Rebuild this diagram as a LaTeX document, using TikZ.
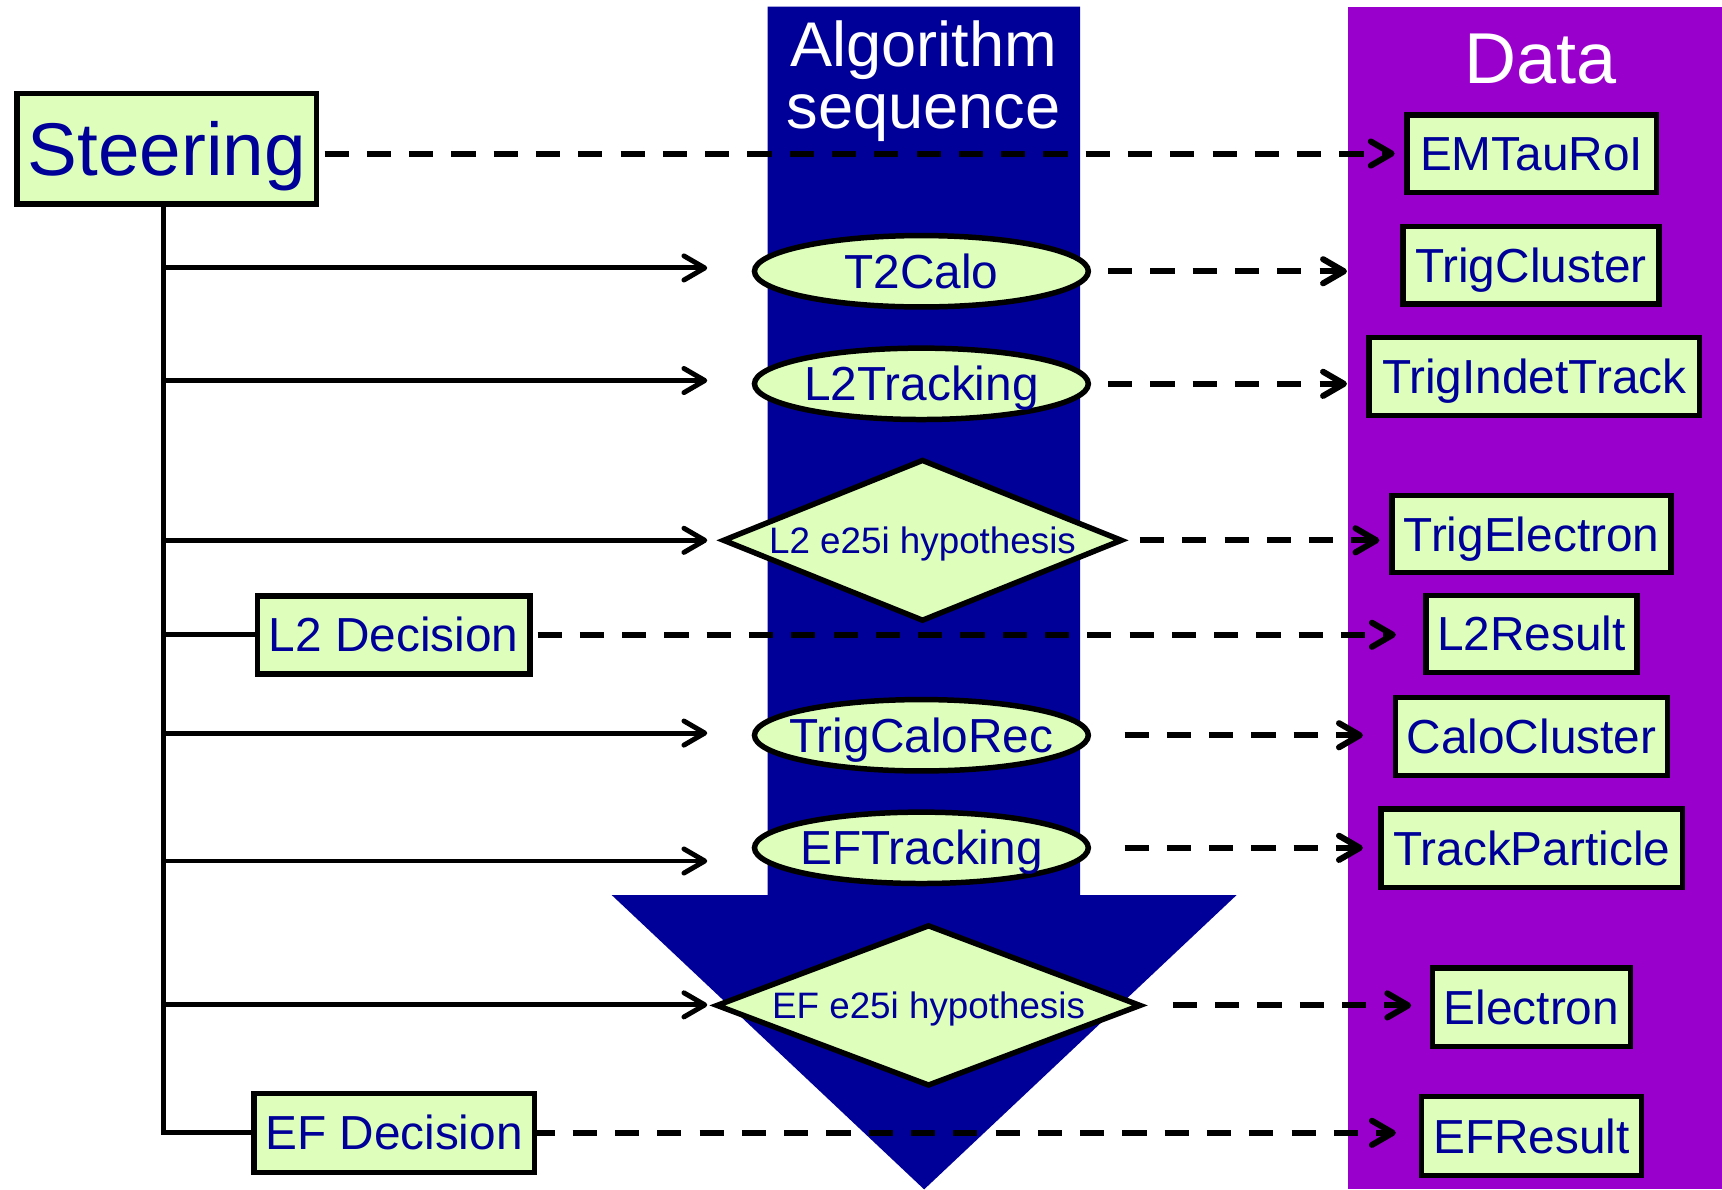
\documentclass[tikz,border=0pt]{standalone}
\usepackage{fontspec}
\setmainfont{Liberation Sans}
\usetikzlibrary{shapes.geometric, arrows.meta}

\definecolor{algoblue}{RGB}{0,0,153}
\definecolor{datapurple}{RGB}{153,0,204}
\definecolor{boxfill}{RGB}{221,255,187}
\definecolor{boxtext}{RGB}{0,0,153}

\begin{document}
\begin{tikzpicture}[x=1pt, y=-1pt,
  every node/.style={inner sep=0pt, outer sep=0pt},
  lbl/.style={font=\fontsize{43.5}{50}\selectfont, text=boxtext,
    text height=31.1pt, text depth=0pt},
  databox/.style={lbl, rectangle, draw=black, line width=5pt, fill=boxfill,
    minimum height=71pt},
  algo/.style={lbl, ellipse, draw=black, line width=5pt, fill=boxfill,
    minimum width=304pt, minimum height=65pt, inner xsep=-80pt},
  hypo/.style={lbl, diamond, aspect=2.5, draw=black, line width=5pt,
    fill=boxfill, font=\fontsize{33.5}{40}\selectfont, text height=24pt},
  title/.style={text=white, anchor=base},
  barb/.style={-{Straight Barb[length=19pt, width=22pt, round]}},
  link/.style={line width=4.5pt},
  flow/.style={link, barb},
  dflow/.style={line width=5.5pt, dash pattern=on 22pt off 16.5pt, barb}
]
\useasboundingbox (0,0) rectangle (1568,1083);

% algorithm sequence column with its arrow head, and the data column
\fill[algoblue] (699,6) -- (983.5,6) -- (983.5,815) -- (1126,815)
  -- (841.5,1083) -- (557,815) -- (699,815) -- cycle;
\fill[datapurple] (1227.5,6) rectangle (1568,1083);

\node[title, font=\fontsize{57.5}{60}\selectfont] (algtitleA) at (841,61) {Algorithm};
\node[title, font=\fontsize{57.5}{60}\selectfont] (algtitleB) at (841,117) {sequence};
\node[title, font=\fontsize{65.6}{70}\selectfont] (datatitle) at (1403,76) {Data};

% steering and decisions
\node[databox, minimum width=272.7pt, minimum height=100.9pt,
  font=\fontsize{68}{80}\selectfont, text height=48.7pt] (steer) at (151.7,135.5) {Steering};
\node[databox, minimum width=248pt] (L2Dec) at (358.5,578) {L2 Decision};
\node[databox, minimum width=255.4pt, minimum height=72pt] (EFDec) at (358.8,1031.5) {EF Decision};

% algorithms
\node[algo] (T2Calo) at (839,247) {T2Calo};
\node[algo] (L2Tracking) at (839,349.5) {L2Tracking};
\node[hypo, minimum width=362pt, minimum height=145.5pt] (L2hypo) at (840,492) {L2 e25i hypothesis};
\node[algo] (TrigCaloRec) at (839,669.5) {TrigCaloRec};
\node[algo] (EFTracking) at (839,772) {EFTracking};
\node[hypo, minimum width=385pt, minimum height=145pt] (EFhypo) at (845.5,915.5) {EF e25i hypothesis};

% data objects
\node[databox, minimum width=227.3pt, minimum height=70.6pt] (EMTau) at (1394.6,139.8) {EMTauRoI};
\node[databox, minimum width=233pt, minimum height=70.5pt] (TrigCluster) at (1394,241.7) {TrigCluster};
\node[databox, minimum width=301pt] (TrigIndetTrack) at (1397,343) {TrigIndetTrack};
\node[databox, minimum width=254pt, minimum height=70.4pt] (TrigElectron) at (1394.5,486.3) {TrigElectron};
\node[databox, minimum width=192pt, minimum height=70pt] (L2Result) at (1394.5,577.2) {L2Result};
\node[databox, minimum width=248pt] (CaloCluster) at (1394.5,670.5) {CaloCluster};
\node[databox, minimum width=274.6pt, minimum height=71.5pt] (TrackParticle) at (1394.8,772.2) {TrackParticle};
\node[databox, minimum width=180pt, minimum height=71.6pt] (Electron) at (1394.5,917.3) {Electron};
\node[databox, minimum width=200pt, minimum height=72pt] (EFResult) at (1394.5,1034.5) {EFResult};

% steering trunk and its calls
\coordinate (trunk) at (148.7,1031.5);
\coordinate (tT2) at (644,244);
\coordinate (tL2T) at (644,346.5);
\coordinate (tL2H) at (644,492);
\coordinate (tTCR) at (644,667.5);
\coordinate (tEFT) at (644,784);
\coordinate (tEFH) at (644,915);

\draw[link] (steer.south -| trunk) -- (trunk) -- (EFDec.west);
\draw[flow] (trunk |- tT2) -- (tT2);
\draw[flow] (trunk |- tL2T) -- (tL2T);
\draw[flow] (trunk |- tL2H) -- (tL2H);
\draw[link] (trunk |- L2Dec) -- (L2Dec.west);
\draw[flow] (trunk |- tTCR) -- (tTCR);
\draw[flow] (trunk |- tEFT) -- (tEFT);
\draw[flow] (trunk |- tEFH) -- (tEFH);

% data produced
\draw[dflow, shorten <=7.5pt, shorten >=11pt] (steer.east |- EMTau) -- (EMTau.west);
\draw[dflow, shorten <=18pt, shorten >=51pt] (T2Calo.east) -- (T2Calo.east -| TrigCluster.west);
\draw[dflow, shorten <=18pt, shorten >=20pt] (L2Tracking.east) -- (L2Tracking.east -| TrigIndetTrack.west);
\draw[dflow, shorten <=17pt, shorten >=11.5pt] (L2hypo.east) -- (L2hypo.east -| TrigElectron.west);
\draw[dflow, shorten <=7pt, shorten >=27.5pt] (L2Dec.east) -- (L2Dec.east -| L2Result.west);
\draw[dflow, shorten <=33pt, shorten >=29.5pt] (TrigCaloRec.east) -- (TrigCaloRec.east -| CaloCluster.west);
\draw[dflow, shorten <=33pt, shorten >=16.5pt] (EFTracking.east) -- (EFTracking.east -| TrackParticle.west);
\draw[dflow, shorten <=30pt, shorten >=19.5pt] (EFhypo.east) -- (EFhypo.east -| Electron.west);
\draw[dflow, dash phase=6pt, shorten <=2.5pt, shorten >=23.5pt] (EFDec.east) -- (EFDec.east -| EFResult.west);
\end{tikzpicture}
\end{document}
